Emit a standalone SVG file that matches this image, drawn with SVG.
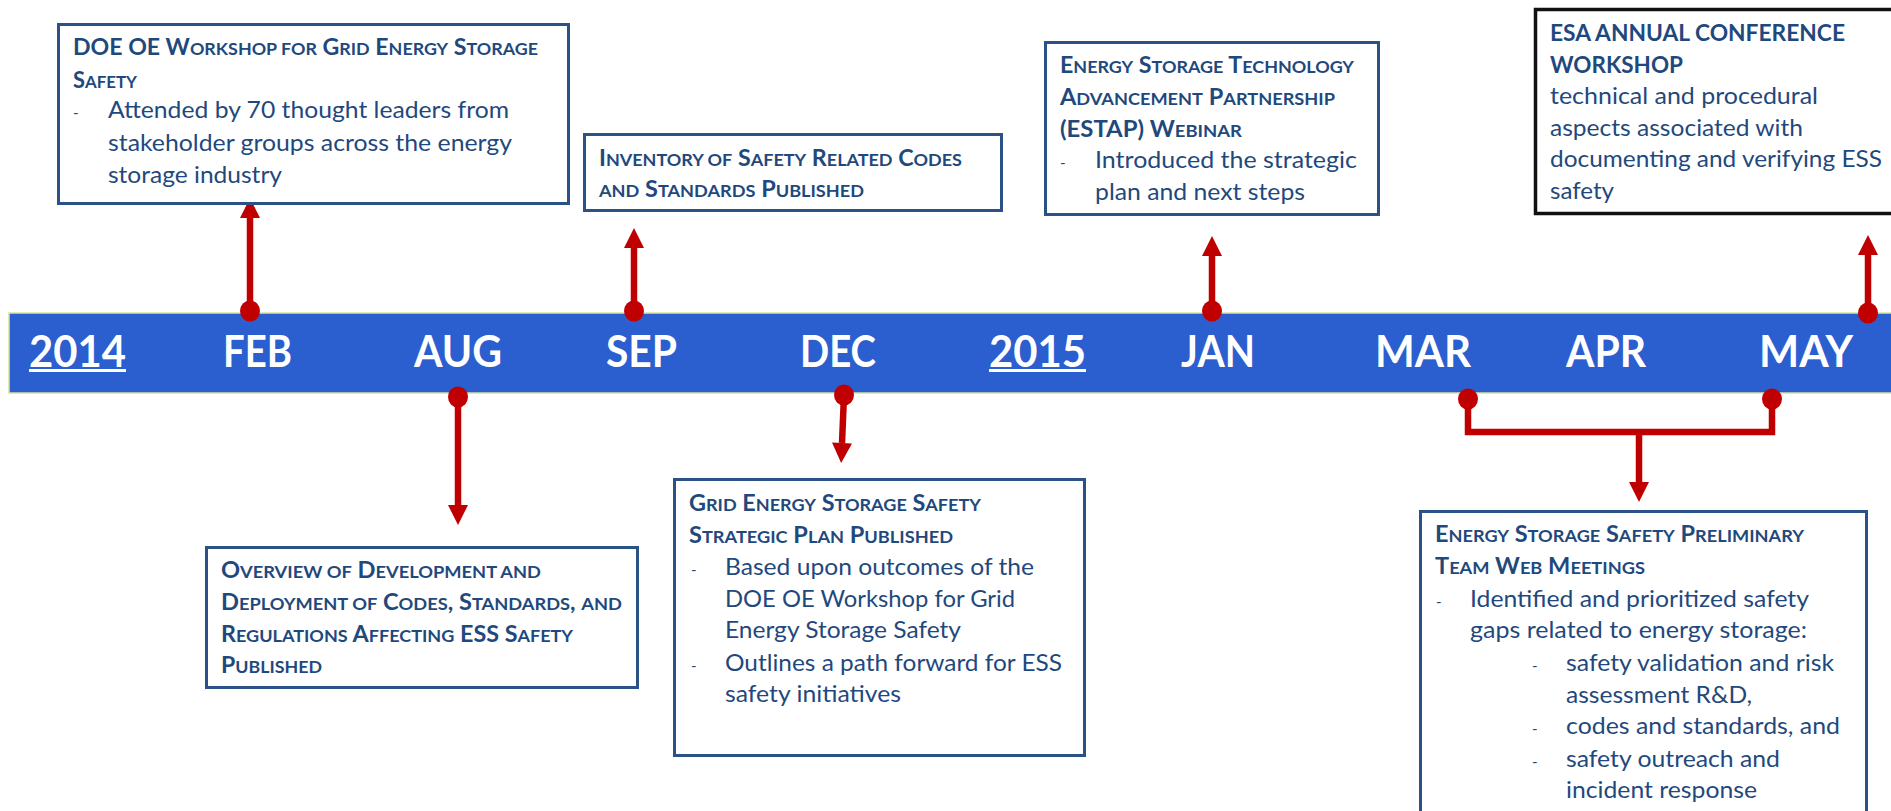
<svg xmlns="http://www.w3.org/2000/svg" width="1891" height="811" viewBox="0 0 1891 811">
  <style>
    .box { fill: #ffffff; stroke: #2A5287; stroke-width: 3; }
    .box-dark { fill: #ffffff; stroke: #111111; stroke-width: 3.5; }
    .t { font-family: Lato, "Open Sans", "Liberation Sans", sans-serif; font-weight: 700; font-size: 22px; fill: #1F497D; }
    .t .s { font-size: 17px; }
    .b { font-family: Lato, "Open Sans", "Liberation Sans", sans-serif; font-weight: 400; font-size: 22.5px; fill: #1F497D; }
    .dash { font-family: Lato, "Open Sans", "Liberation Sans", sans-serif; font-size: 15px; fill: #1F497D; }
    .m { font-family: Lato, "Open Sans", "Liberation Sans", sans-serif; font-weight: 700; font-size: 43px; fill: #ffffff; }
    .link { fill: none; stroke: #C00000; stroke-width: 6.5; stroke-linejoin: miter; }
  </style>
  <defs>
    <marker id="head" markerUnits="userSpaceOnUse" markerWidth="24" markerHeight="24" viewBox="-1 -11 24 22" refX="0" refY="0" orient="auto" overflow="visible">
      <path d="M0,-10 L20,0 L0,10 z" fill="#C00000"/>
    </marker>
    <marker id="dot" markerUnits="userSpaceOnUse" markerWidth="24" markerHeight="24" viewBox="-12 -12 24 24" refX="0" refY="0" overflow="visible">
      <ellipse cx="0" cy="0" rx="10" ry="10.5" fill="#C00000"/>
    </marker>
  </defs>

  <!-- timeline band -->
  <rect id="timeline-bar" x="9" y="313" width="1895" height="80" fill="#2B5ECE" stroke="#D6E39E" stroke-width="1.5"/>

  <!-- connectors: dot on the band, arrow to the event box -->
  <g id="connectors">
    <path class="link" d="M250,311 V218" marker-start="url(#dot)" marker-end="url(#head)"/>
    <path class="link" d="M634,311 V248" marker-start="url(#dot)" marker-end="url(#head)"/>
    <path class="link" d="M1212,311 V256" marker-start="url(#dot)" marker-end="url(#head)"/>
    <path class="link" d="M1868,313 V255" marker-start="url(#dot)" marker-end="url(#head)"/>
    <path class="link" d="M458,397 V505" marker-start="url(#dot)" marker-end="url(#head)"/>
    <path class="link" d="M844,395 L842,443" marker-start="url(#dot)" marker-end="url(#head)"/>
    <path class="link" d="M1468,399 V432 H1772 V399" marker-start="url(#dot)" marker-end="url(#dot)"/>
    <path class="link" d="M1639,432 V482" marker-end="url(#head)"/>
  </g>

  <!-- month and year labels on the band -->
  <g id="labels">
    <text class="m" x="29" y="367" textLength="97" lengthAdjust="spacingAndGlyphs">2014</text>
    <rect x="29" y="369" width="97" height="3" fill="#ffffff"/>
    <text class="m" x="223" y="367" textLength="69" lengthAdjust="spacingAndGlyphs">FEB</text>
    <text class="m" x="414" y="367" textLength="88" lengthAdjust="spacingAndGlyphs">AUG</text>
    <text class="m" x="606" y="367" textLength="71" lengthAdjust="spacingAndGlyphs">SEP</text>
    <text class="m" x="800" y="367" textLength="76" lengthAdjust="spacingAndGlyphs">DEC</text>
    <text class="m" x="989" y="367" textLength="97" lengthAdjust="spacingAndGlyphs">2015</text>
    <rect x="989" y="369" width="97" height="3" fill="#ffffff"/>
    <text class="m" x="1181" y="367" textLength="74" lengthAdjust="spacingAndGlyphs">JAN</text>
    <text class="m" x="1375" y="367" textLength="96" lengthAdjust="spacingAndGlyphs">MAR</text>
    <text class="m" x="1566" y="367" textLength="80" lengthAdjust="spacingAndGlyphs">APR</text>
    <text class="m" x="1759" y="367" textLength="94" lengthAdjust="spacingAndGlyphs">MAY</text>
  </g>

  <!-- Feb 2014 -->
  <g id="workshop-feb">
    <rect class="box" x="58.5" y="24.5" width="510" height="179"/>
    <text class="t" x="73" y="55" textLength="465" lengthAdjust="spacingAndGlyphs">DOE OE W<tspan class="s">ORKSHOP FOR</tspan> G<tspan class="s">RID</tspan> E<tspan class="s">NERGY</tspan> S<tspan class="s">TORAGE</tspan></text>
    <text class="t" x="73" y="88" textLength="64" lengthAdjust="spacingAndGlyphs">S<tspan class="s">AFETY</tspan></text>
    <text class="dash" x="73" y="118">-</text>
    <text class="b" x="108" y="118" textLength="401" lengthAdjust="spacingAndGlyphs">Attended by 70 thought leaders from</text>
    <text class="b" x="108" y="150.5" textLength="404" lengthAdjust="spacingAndGlyphs">stakeholder groups across the energy</text>
    <text class="b" x="108" y="183" textLength="174" lengthAdjust="spacingAndGlyphs">storage industry</text>
  </g>

  <!-- Aug 2014 -->
  <g id="overview-aug">
    <rect class="box" x="206.5" y="547.5" width="431" height="140"/>
    <text class="t" x="221" y="578" textLength="320" lengthAdjust="spacingAndGlyphs">O<tspan class="s">VERVIEW OF</tspan> D<tspan class="s">EVELOPMENT AND</tspan></text>
    <text class="t" x="221" y="610" textLength="401" lengthAdjust="spacingAndGlyphs">D<tspan class="s">EPLOYMENT OF</tspan> C<tspan class="s">ODES</tspan>, S<tspan class="s">TANDARDS</tspan>, <tspan class="s">AND</tspan></text>
    <text class="t" x="221" y="642" textLength="352" lengthAdjust="spacingAndGlyphs">R<tspan class="s">EGULATIONS</tspan> A<tspan class="s">FFECTING</tspan> ESS S<tspan class="s">AFETY</tspan></text>
    <text class="t" x="221" y="673" textLength="101" lengthAdjust="spacingAndGlyphs">P<tspan class="s">UBLISHED</tspan></text>
  </g>

  <!-- Sep 2014 -->
  <g id="inventory-sep">
    <rect class="box" x="584.5" y="134.5" width="417" height="76"/>
    <text class="t" x="599" y="166" textLength="363" lengthAdjust="spacingAndGlyphs">I<tspan class="s">NVENTORY OF</tspan> S<tspan class="s">AFETY</tspan> R<tspan class="s">ELATED</tspan> C<tspan class="s">ODES</tspan></text>
    <text class="t" x="599" y="197" textLength="265" lengthAdjust="spacingAndGlyphs"><tspan class="s">AND</tspan> S<tspan class="s">TANDARDS</tspan> P<tspan class="s">UBLISHED</tspan></text>
  </g>

  <!-- Dec 2014 -->
  <g id="strategic-plan-dec">
    <rect class="box" x="674.5" y="479.5" width="410" height="276"/>
    <text class="t" x="689" y="511" textLength="292" lengthAdjust="spacingAndGlyphs">G<tspan class="s">RID</tspan> E<tspan class="s">NERGY</tspan> S<tspan class="s">TORAGE</tspan> S<tspan class="s">AFETY</tspan></text>
    <text class="t" x="689" y="543" textLength="264" lengthAdjust="spacingAndGlyphs">S<tspan class="s">TRATEGIC</tspan> P<tspan class="s">LAN</tspan> P<tspan class="s">UBLISHED</tspan></text>
    <text class="dash" x="691" y="575">-</text>
    <text class="b" x="725" y="575" textLength="309" lengthAdjust="spacingAndGlyphs">Based upon outcomes of the</text>
    <text class="b" x="725" y="607" textLength="290" lengthAdjust="spacingAndGlyphs">DOE OE Workshop for Grid</text>
    <text class="b" x="725" y="638" textLength="236" lengthAdjust="spacingAndGlyphs">Energy Storage Safety</text>
    <text class="dash" x="691" y="671">-</text>
    <text class="b" x="725" y="671" textLength="337" lengthAdjust="spacingAndGlyphs">Outlines a path forward for ESS</text>
    <text class="b" x="725" y="702" textLength="176" lengthAdjust="spacingAndGlyphs">safety initiatives</text>
  </g>

  <!-- Jan 2015 -->
  <g id="estap-jan">
    <rect class="box" x="1045.5" y="42.5" width="333" height="172"/>
    <text class="t" x="1060" y="73" textLength="294" lengthAdjust="spacingAndGlyphs">E<tspan class="s">NERGY</tspan> S<tspan class="s">TORAGE</tspan> T<tspan class="s">ECHNOLOGY</tspan></text>
    <text class="t" x="1060" y="105" textLength="275" lengthAdjust="spacingAndGlyphs">A<tspan class="s">DVANCEMENT</tspan> P<tspan class="s">ARTNERSHIP</tspan></text>
    <text class="t" x="1060" y="137" textLength="182" lengthAdjust="spacingAndGlyphs">(ESTAP) W<tspan class="s">EBINAR</tspan></text>
    <text class="dash" x="1060" y="168">-</text>
    <text class="b" x="1095" y="168" textLength="262" lengthAdjust="spacingAndGlyphs">Introduced the strategic</text>
    <text class="b" x="1095" y="200" textLength="210" lengthAdjust="spacingAndGlyphs">plan and next steps</text>
  </g>

  <!-- Mar / May 2015 -->
  <g id="web-meetings-mar-may">
    <rect class="box" x="1420.5" y="511.5" width="446" height="330"/>
    <text class="t" x="1435" y="542" textLength="369" lengthAdjust="spacingAndGlyphs">E<tspan class="s">NERGY</tspan> S<tspan class="s">TORAGE</tspan> S<tspan class="s">AFETY</tspan> P<tspan class="s">RELIMINARY</tspan></text>
    <text class="t" x="1435" y="574" textLength="210" lengthAdjust="spacingAndGlyphs">T<tspan class="s">EAM</tspan> W<tspan class="s">EB</tspan> M<tspan class="s">EETINGS</tspan></text>
    <text class="dash" x="1436" y="607">-</text>
    <text class="b" x="1470" y="607" textLength="339" lengthAdjust="spacingAndGlyphs">Identified and prioritized safety</text>
    <text class="b" x="1470" y="638" textLength="337" lengthAdjust="spacingAndGlyphs">gaps related to energy storage:</text>
    <text class="dash" x="1532" y="671">-</text>
    <text class="b" x="1566" y="671" textLength="268" lengthAdjust="spacingAndGlyphs">safety validation and risk</text>
    <text class="b" x="1566" y="703" textLength="186" lengthAdjust="spacingAndGlyphs">assessment R&amp;D,</text>
    <text class="dash" x="1532" y="734">-</text>
    <text class="b" x="1566" y="734" textLength="274" lengthAdjust="spacingAndGlyphs">codes and standards, and</text>
    <text class="dash" x="1532" y="767">-</text>
    <text class="b" x="1566" y="767" textLength="214" lengthAdjust="spacingAndGlyphs">safety outreach and</text>
    <text class="b" x="1566" y="798" textLength="191" lengthAdjust="spacingAndGlyphs">incident response</text>
  </g>

  <!-- May 2015 -->
  <g id="esa-conference-may">
    <rect class="box-dark" x="1535.5" y="9.5" width="400" height="204"/>
    <text class="t" x="1550" y="41" style="font-size:23px" textLength="295" lengthAdjust="spacingAndGlyphs">ESA ANNUAL CONFERENCE</text>
    <text class="t" x="1550" y="73" style="font-size:23px" textLength="133" lengthAdjust="spacingAndGlyphs">WORKSHOP</text>
    <text class="b" x="1550" y="104" textLength="268" lengthAdjust="spacingAndGlyphs">technical and procedural</text>
    <text class="b" x="1550" y="136" textLength="253" lengthAdjust="spacingAndGlyphs">aspects associated with</text>
    <text class="b" x="1550" y="167" textLength="332" lengthAdjust="spacingAndGlyphs">documenting and verifying ESS</text>
    <text class="b" x="1550" y="199" textLength="64" lengthAdjust="spacingAndGlyphs">safety</text>
  </g>
</svg>
